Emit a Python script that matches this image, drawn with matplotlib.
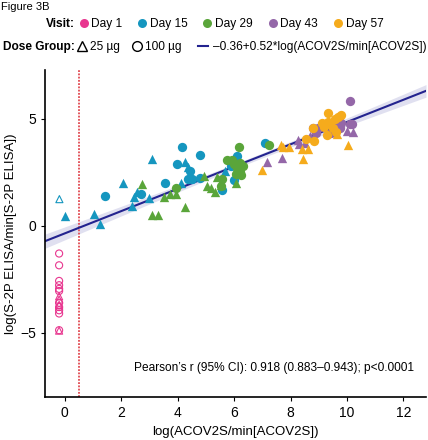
import matplotlib
matplotlib.use("Agg")
import matplotlib.pyplot as plt
from matplotlib.lines import Line2D
import numpy as np

plt.rcParams['font.family'] = ['Liberation Sans', 'DejaVu Sans']

# data: (x, y) per visit and dose group
visits = ['Day 1', 'Day 15', 'Day 29', 'Day 43', 'Day 57']
colors = ['#e8368f', '#1596bf', '#5aa53a', '#9467a8', '#f5ab1c']

d1_tri_x = [-0.2, -0.2, -0.2, -0.2]
d1_tri_y = [-3.3, -3.45, -3.7, -4.9]
d1_cir_x = [-0.2] * 11
d1_cir_y = [-1.3, -1.85, -2.58, -2.78, -2.95, -3.05, -3.6, -3.8, -3.95, -4.1, -4.88]

d15_tri_x = [-0.19, 0.01, 1.05, 1.26, 2.05, 2.44, 2.56, 2.38, 3.0, 3.1, 4.11, 4.26, 4.36, 5.67]
d15_tri_y = [1.24, 0.46, 0.54, 0.06, 2.0, 1.35, 1.57, 0.9, 1.28, 3.1, 1.97, 2.98, 2.72, 2.56]
d15_cir_x = [1.44, 2.7, 3.56, 3.97, 4.17, 4.44, 4.5, 4.38, 4.78, 4.8, 5.88, 6.1, 6.0, 5.57, 7.1]
d15_cir_y = [1.38, 1.49, 2.0, 2.86, 3.68, 2.55, 2.2, 2.16, 3.3, 2.25, 2.78, 3.25, 2.13, 1.66, 3.84]

d29_tri_x = [2.72, 3.1, 3.32, 3.53, 3.73, 3.93, 4.25, 4.94, 5.05, 5.17, 5.38, 5.52, 5.32, 6.05]
d29_tri_y = [1.94, 0.48, 0.48, 1.35, 1.49, 1.49, 0.88, 2.31, 1.85, 1.74, 2.28, 1.89, 1.57, 1.97]
d29_cir_x = [3.93, 5.57, 5.55, 5.74, 5.93, 6.16, 7.25, 6.0, 6.1, 6.2, 6.05, 6.25, 6.15, 6.3, 6.2]
d29_cir_y = [1.78, 2.2, 1.85, 3.09, 3.09, 3.68, 3.75, 2.9, 2.7, 2.5, 2.4, 2.35, 2.6, 2.8, 2.95]

d43_tri_x = [7.16, 7.71, 8.27, 8.3, 8.53, 8.69, 10.0, 10.21]
d43_tri_y = [2.98, 3.17, 4.0, 3.81, 3.87, 4.18, 4.42, 4.38]
d43_cir_x = [8.8, 8.98, 8.92, 9.43, 9.68, 9.78, 9.62, 9.74, 10.09, 10.18, 10.09, 9.55, 9.7, 9.66]
d43_cir_y = [4.54, 4.54, 4.31, 4.34, 4.78, 4.8, 4.62, 4.57, 4.74, 4.74, 5.83, 4.7, 4.9, 4.78]

d57_tri_x = [6.98, 7.66, 7.74, 7.96, 8.39, 8.63, 8.43, 9.66, 10.04]
d57_tri_y = [2.59, 3.76, 3.68, 3.68, 3.6, 3.6, 3.11, 4.28, 3.79]
d57_cir_x = [8.55, 8.84, 8.8, 9.1, 9.33, 9.31, 9.56, 9.68, 9.8, 9.3, 9.62, 9.5, 9.2, 9.39]
d57_cir_y = [4.03, 3.96, 4.54, 4.8, 5.27, 4.85, 5.0, 5.08, 5.16, 4.23, 4.38, 4.54, 4.6, 4.8]

tri_x = [d1_tri_x, d15_tri_x, d29_tri_x, d43_tri_x, d57_tri_x]
tri_y = [d1_tri_y, d15_tri_y, d29_tri_y, d43_tri_y, d57_tri_y]
cir_x = [d1_cir_x, d15_cir_x, d29_cir_x, d43_cir_x, d57_cir_x]
cir_y = [d1_cir_y, d15_cir_y, d29_cir_y, d43_cir_y, d57_cir_y]

intercept, slope = -0.36, 0.52
cutoff = 0.5

fig = plt.figure(figsize=(4.28, 4.40), dpi=100)
ax = fig.add_axes([45 / 428, 43 / 440, 381 / 428, 327 / 440])

# regression line with 95% band (points above the detection limit only)
allx = np.concatenate([np.concatenate(tri_x), np.concatenate(cir_x)])
ally = np.concatenate([np.concatenate(tri_y), np.concatenate(cir_y)])
keep = allx > 0
allx, ally = allx[keep], ally[keep]
res = ally - (intercept + slope * allx)
n = len(allx)
s = np.sqrt(np.sum(res ** 2) / (n - 2))
sxx = np.sum((allx - allx.mean()) ** 2)
xs = np.linspace(-0.7, 12.8, 100)
fit = intercept + slope * xs
se = 1.98 * s * np.sqrt(1 / n + (xs - allx.mean()) ** 2 / sxx)
ax.fill_between(xs, fit - se, fit + se, color='#e0e0f0', lw=0, zorder=1)
ax.plot(xs, fit, color='#23238f', lw=1.5, zorder=2)

ax.axvline(cutoff, color='#e04a52', ls=(0, (1.0, 0.8)), lw=1.3, zorder=1)

for i in range(5):
    for xx, yy, m in [(tri_x[i], tri_y[i], '^'), (cir_x[i], cir_y[i], 'o')]:
        xx = np.array(xx)
        yy = np.array(yy)
        opn = xx < 0
        ax.scatter(xx[~opn], yy[~opn], marker=m, s=45, color=colors[i], lw=0, zorder=3)
        ax.scatter(xx[opn], yy[opn], marker=m, s=26, facecolor='none',
                   edgecolor=colors[i], lw=0.8, zorder=3)

ax.set_xlim(-0.7, 12.8)
ax.set_ylim(-8, 7.27)
ax.set_xticks([0, 2, 4, 6, 8, 10, 12])
ax.set_yticks([-5, 0, 5])
ax.spines['top'].set_visible(False)
ax.spines['right'].set_visible(False)
ax.spines['left'].set_linewidth(1.2)
ax.spines['bottom'].set_linewidth(1.2)
ax.tick_params(labelsize=10, length=3, width=0.8, colors='black')
ax.set_xlabel('log(ACOV2S/min[ACOV2S])', fontsize=9.5)
ax.set_ylabel('log(S-2P ELISA/min[S-2P ELISA])', fontsize=9.5, labelpad=2)

ax.text(0.968, 0.09, "Pearson\u2019s r (95% CI): 0.918 (0.883\u20130.943); p<0.0001",
        transform=ax.transAxes, ha='right', va='center', fontsize=8.55)

fig.text(0.003, 0.995, 'Figure 3B', ha='left', va='top', fontsize=8)

# legends
fs = 8.6
fig.text(75 / 428, 1 - 24 / 440, 'Visit:', ha='right', va='center', fontsize=fs, fontweight='bold')
h1 = [Line2D([], [], marker='o', ls='none', color=c, markersize=6.5, markeredgewidth=0) for c in colors]
fig.legend(h1, visits, loc='center left', bbox_to_anchor=(80 / 428, 1 - 24 / 440), ncol=5,
           frameon=False, fontsize=fs, handlelength=0.6, handletextpad=0.35,
           columnspacing=1.35, borderpad=0, borderaxespad=0)

fig.text(75 / 428, 1 - 47 / 440, 'Dose Group:', ha='right', va='center', fontsize=fs, fontweight='bold')
h2 = [Line2D([], [], marker='^', ls='none', color='black', mfc='none', markersize=7, mew=1.0),
      Line2D([], [], marker='o', ls='none', color='black', mfc='none', markersize=7, mew=1.0)]
fig.legend(h2, ['25 \u00b5g', '100 \u00b5g'],
           loc='center left', bbox_to_anchor=(78 / 428, 1 - 47 / 440), ncol=2,
           frameon=False, fontsize=fs, handlelength=0.7, handletextpad=0.3,
           columnspacing=1.1, borderpad=0, borderaxespad=0)
h3 = [Line2D([], [], color='#23238f', lw=1.5)]
fig.legend(h3, ['\u20130.36+0.52*log(ACOV2S/min[ACOV2S])'],
           loc='center right', bbox_to_anchor=(427 / 428, 1 - 47 / 440),
           frameon=False, fontsize=fs, handlelength=0.8, handletextpad=0.45,
           borderpad=0, borderaxespad=0)

fig.savefig('out.png', dpi=100)
